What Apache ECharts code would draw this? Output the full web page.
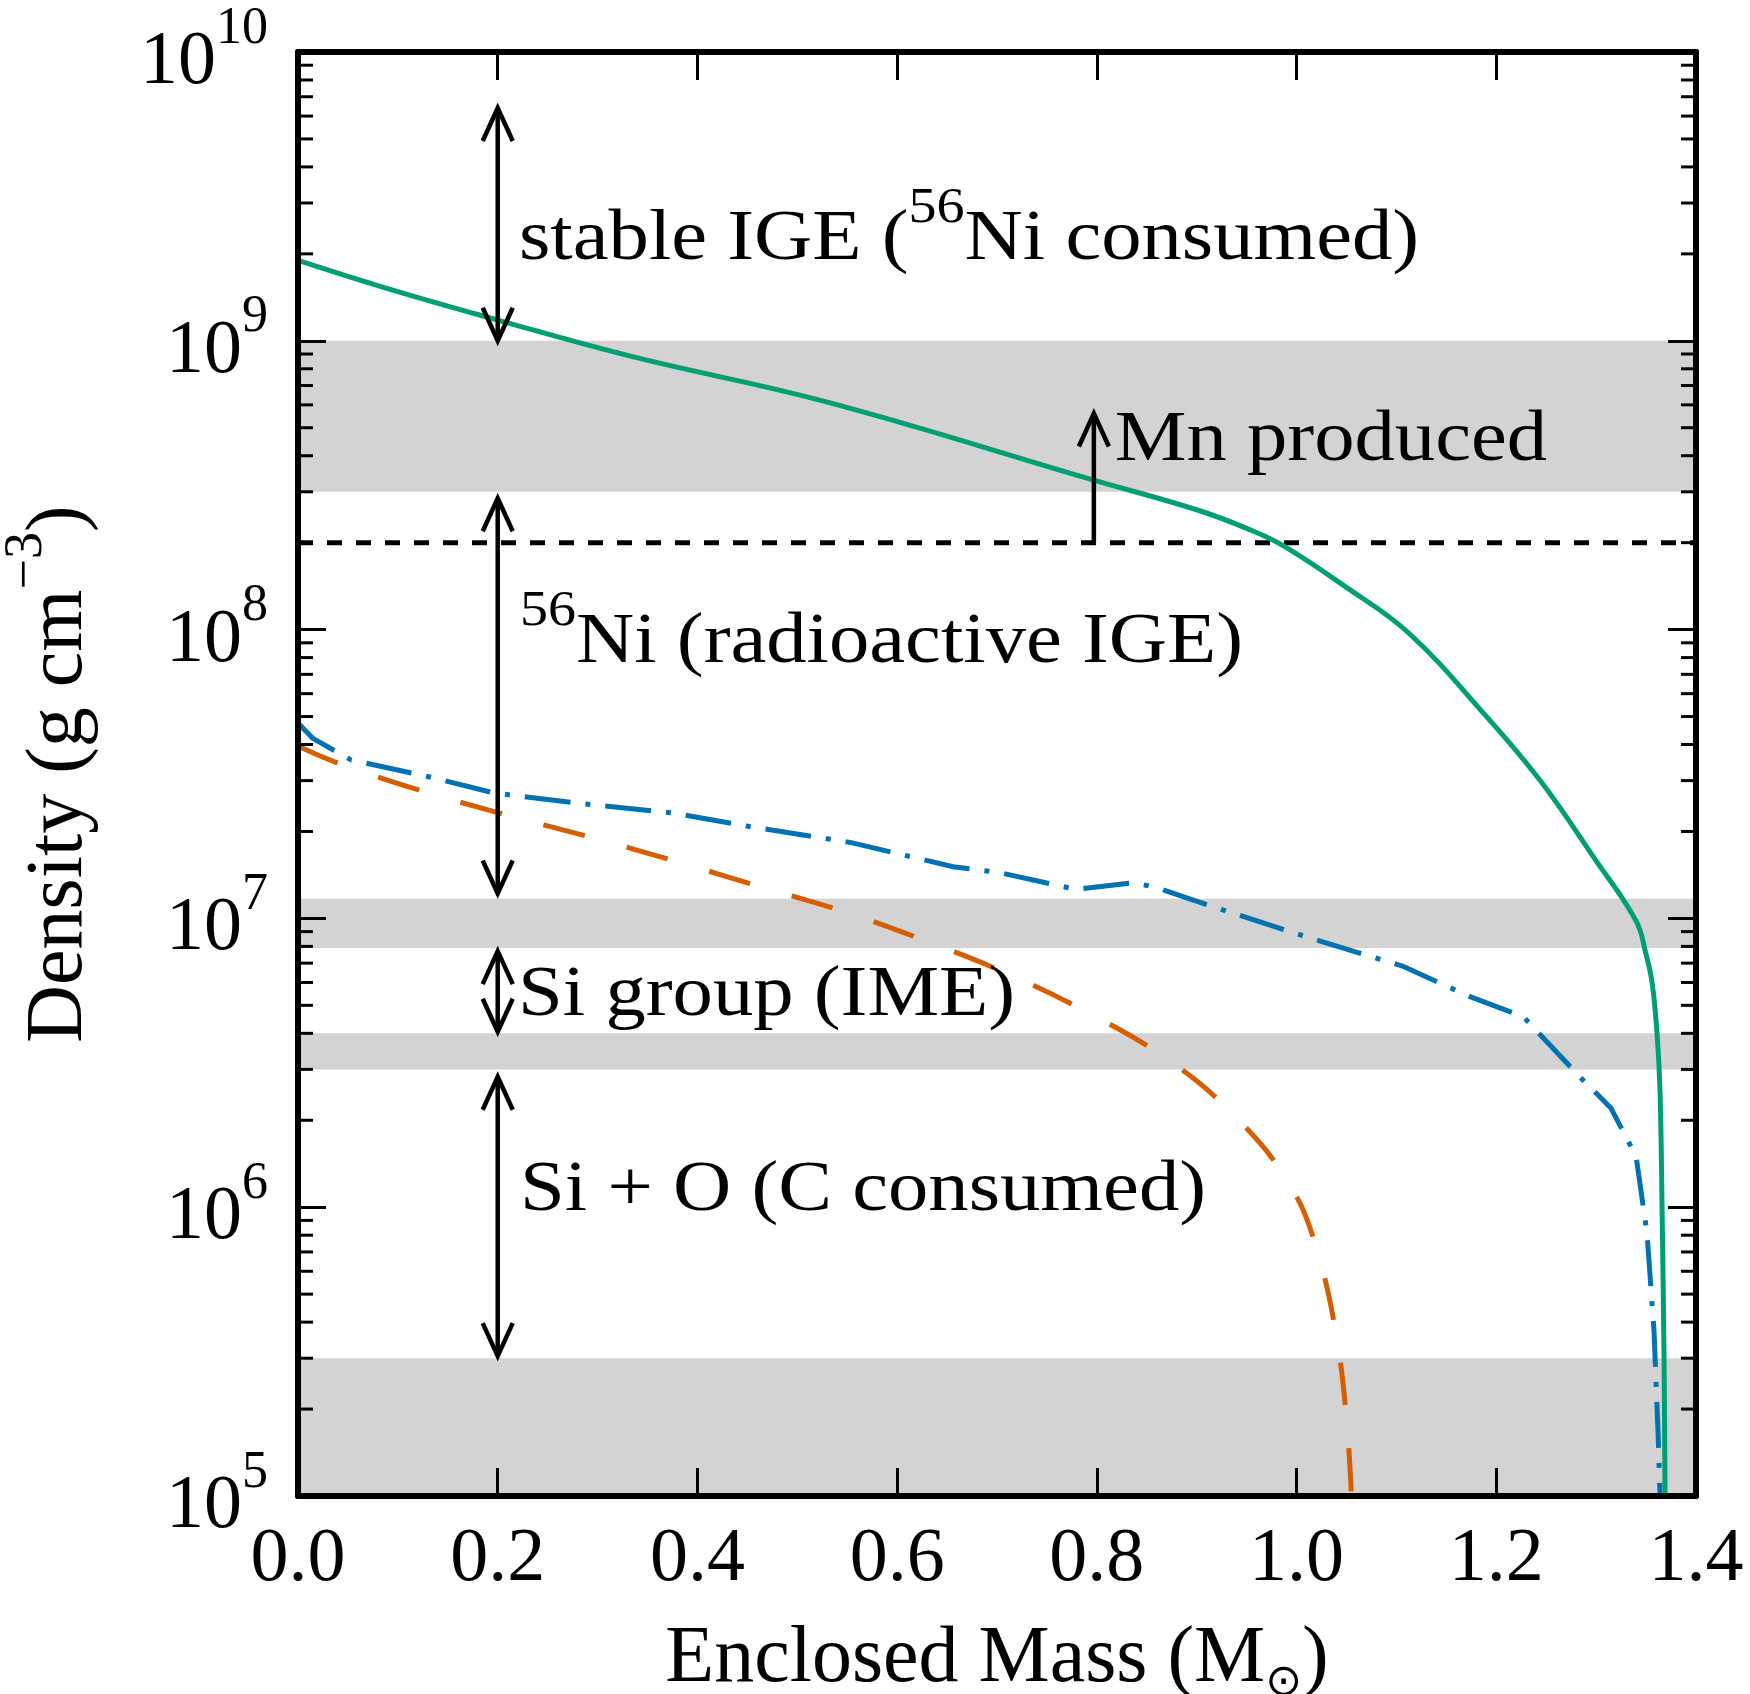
<!DOCTYPE html>
<html><head><meta charset="utf-8">
<script src="https://cdn.jsdelivr.net/npm/echarts@6/dist/echarts.min.js"></script>
<style>html,body{margin:0;padding:0;background:#fff}#c{width:1750px;height:1694px}</style>
</head><body><div id="c"></div>
<script>
// ---------------- data ----------------
const xTickValues = [0.0, 0.2, 0.4, 0.6, 0.8, 1.0, 1.2, 1.4];
const yDecadeValues = [1e5, 1e6, 1e7, 1e8, 1e9, 1e10];
const yMinorTickValues = [
  2e5,3e5,4e5,5e5,6e5,7e5,8e5,9e5,
  2e6,3e6,4e6,5e6,6e6,7e6,8e6,9e6,
  2e7,3e7,4e7,5e7,6e7,7e7,8e7,9e7,
  2e8,3e8,4e8,5e8,6e8,7e8,8e8,9e8,
  2e9,3e9,4e9,5e9,6e9,7e9,8e9,9e9
];
// shaded density ranges [low, high]
const bands = [[1e5, 3e5], [3e6, 4e6], [7.9e6, 1.17e7], [3e8, 1e9]];
// Mn threshold (dashed line)
const mnThreshold = 2e8;
// density profiles: [enclosed mass, density]
const greenProfile = [
  [0.000,1.90e9],[0.100,1.48e9],[0.200,1.18e9],[0.334,8.83e8],[0.532,6.11e8],
  [0.796,3.30e8],[0.900,2.60e8],[0.953,2.22e8],[0.987,1.95e8],[1.050,1.40e8],
  [1.112,9.75e7],[1.188,5.1e7],[1.244,3.0e7],[1.299,1.6e7],[1.340,9.8e6],
  [1.350,7.5e6],[1.356,6.0e6],[1.361,4.0e6],[1.364,2.5e6],[1.366,1.0e6],
  [1.368,3.0e5],[1.369,1.0e5]
];
const blueProfile = [
  [0.000,4.75e7],[0.015,4.2e7],[0.053,3.54e7],[0.135,3.07e7],[0.196,2.72e7],
  [0.211,2.68e7],[0.278,2.51e7],[0.375,2.32e7],[0.452,2.08e7],[0.554,1.83e7],
  [0.656,1.51e7],[0.703,1.44e7],[0.779,1.26e7],[0.837,1.33e7],[0.859,1.28e7],
  [0.926,1.07e7],[1.016,8.5e6],[1.106,6.84e6],[1.173,5.37e6],[1.227,4.57e6],
  [1.284,2.82e6],[1.315,2.2e6],[1.340,1.5e6],[1.351,8.1e5],[1.358,3.7e5],
  [1.362,1.66e5],[1.364,1.0e5]
];
const orangeProfile = [
  [0.000,3.95e7],[0.038,3.47e7],[0.120,2.79e7],[0.201,2.32e7],[0.293,1.91e7],
  [0.380,1.57e7],[0.462,1.29e7],[0.549,1.05e7],[0.631,8.3e6],[0.712,6.4e6],
  [0.792,4.7e6],[0.868,3.3e6],[0.935,2.12e6],[0.993,1.2e6],[1.022,6.8e5],
  [1.042,3.2e5],[1.051,1.66e5],[1.055,1.0e5]
];
// arrows: [mass, density from, density to, heads (2 = both, 1 = top only)]
const arrows = [
  [0.2, 1.0e9, 6.4e9, 2],
  [0.2, 1.22e7, 2.85e8, 2],
  [0.2, 4.05e6, 7.7e6, 2],
  [0.2, 3.05e5, 2.83e6, 2],
  [0.797, 2.0e8, 5.6e8, 1]
];
// annotation anchors [mass, density] and texts
const annotationAnchors = [[0.2213, 2.42e9], [0.818, 4.85e8], [0.2223, 9.75e7], [0.2203, 5.85e6], [0.2223, 1.23e6]];
const annotationTexts = [
  '{r|stable IGE (}{s|56}{r|Ni consumed)}',
  '{r|Mn produced}',
  '{s|56}{r|Ni (radioactive IGE)}',
  '{r|Si group (IME)}',
  '{r|Si + O (C consumed)}'
];
const xAxisName = '{n|Enclosed Mass (M}{sub|⊙}{n|)}';
const yAxisName = '{n|Density (g cm}{s|−3}{n|)}';

// ---------------- chart ----------------
const FONT = "'Liberation Serif', 'DejaVu Serif', serif";
const chart = echarts.init(document.getElementById('c'), null, {renderer: 'canvas'});

const axisLineStyle = {color: '#000', width: 6};
const tickStyle = {color: '#000', width: 3};

const xAxisBase = {
  type: 'value', min: 0, max: 1.4, interval: 0.2, z: 10,
  axisLine: {show: true, onZero: false, lineStyle: axisLineStyle},
  axisTick: {show: true, inside: true, length: 28, lineStyle: tickStyle},
  splitLine: {show: false}
};
const yAxisBase = {
  type: 'log', logBase: 10, min: yDecadeValues[0], max: yDecadeValues[yDecadeValues.length - 1],
  splitNumber: 5, z: 10,
  axisLine: {show: true, onZero: false, lineStyle: axisLineStyle},
  axisTick: {show: true, inside: true, length: 28, lineStyle: tickStyle},
  splitLine: {show: false}, minorTick: {show: false}
};

const annScale = 1.12;

const option = {
  animation: false,
  backgroundColor: '#fff',
  grid: {left: 298, right: 54, top: 52, bottom: 198, containLabel: false, outerBoundsMode: 'none'},
  xAxis: [
    Object.assign({}, xAxisBase, {
      position: 'bottom',
      axisLabel: {show: true, margin: 26, fontFamily: FONT, fontSize: 76, color: '#000',
        showMinLabel: true, showMaxLabel: true,
        formatter: v => xTickValues.some(t => Math.abs(t - v) < 1e-9) ? v.toFixed(1) : ''},
      name: xAxisName, nameLocation: 'middle', nameGap: 124,
      nameTextStyle: {rich: {
        n: {fontFamily: FONT, fontSize: 80, lineHeight: 86, verticalAlign: 'top', color: '#000'},
        sub: {fontFamily: "'DejaVu Sans', sans-serif", fontSize: 44, lineHeight: 44, verticalAlign: 'bottom', color: '#000'}
      }}
    }),
    Object.assign({}, xAxisBase, {position: 'top', axisLabel: {show: false}})
  ],
  yAxis: [
    Object.assign({}, yAxisBase, {
      position: 'left',
      axisLabel: {show: true, margin: 30, color: '#000',
        formatter: v => '{b|10}{s|' + Math.round(Math.log10(v)) + '}',
        rich: {
          b: {fontFamily: FONT, fontSize: 76, lineHeight: 98, verticalAlign: 'bottom', color: '#000'},
          s: {fontFamily: FONT, fontSize: 52, lineHeight: 52, verticalAlign: 'top', color: '#000'}
        }},
      name: yAxisName, nameLocation: 'middle', nameRotate: 90, nameGap: 198,
      nameTextStyle: {rich: {
        n: {fontFamily: FONT, fontSize: 80, lineHeight: 100, verticalAlign: 'bottom', color: '#000'},
        s: {fontFamily: FONT, fontSize: 54, lineHeight: 54, verticalAlign: 'top', color: '#000'}
      }}
    }),
    Object.assign({}, yAxisBase, {position: 'right', axisLabel: {show: false}})
  ],
  series: [
    { // shaded bands
      type: 'line', z: 1, data: [[0, mnThreshold]], symbol: 'none', showSymbol: false,
      lineStyle: {opacity: 0}, silent: true,
      markArea: {silent: true, itemStyle: {color: '#d3d3d3'},
        data: bands.map(b => [{xAxis: 0, yAxis: b[0]}, {xAxis: 1.4, yAxis: b[1]}])}
    },
    { // Mn threshold dashed
      type: 'line', z: 2, symbol: 'none', silent: true,
      data: [[0, mnThreshold], [1.4, mnThreshold]],
      lineStyle: {color: '#000', width: 5, type: [15, 14]}
    },
    {type: 'line', z: 3, symbol: 'none', silent: true, data: orangeProfile,
      smooth: 0.4,
      lineStyle: {color: '#D55E00', width: 5, type: [43, 43]}},
    {type: 'line', z: 3, symbol: 'none', silent: true, data: blueProfile,
      lineStyle: {color: '#0072B2', width: 5, type: [46, 15, 5, 15]}},
    {type: 'line', z: 3, symbol: 'none', silent: true, data: greenProfile,
      smooth: 0.4,
      lineStyle: {color: '#009E73', width: 5}},
    { // minor ticks on both y axes
      type: 'custom', z: 11, silent: true, clip: false,
      data: yMinorTickValues.map(v => [0, v]),
      renderItem: (params, api) => {
        const v = api.value(1);
        const pl = api.coord([0, v]);
        const pr = api.coord([1.4, v]);
        return {type: 'group', children: [
          {type: 'line', shape: {x1: pl[0], y1: pl[1], x2: pl[0] + 15, y2: pl[1]}, style: {stroke: '#000', lineWidth: 3}},
          {type: 'line', shape: {x1: pr[0] - 15, y1: pr[1], x2: pr[0], y2: pr[1]}, style: {stroke: '#000', lineWidth: 3}}
        ]};
      }
    },
    { // arrows
      type: 'custom', z: 6, silent: true, clip: false,
      data: arrows,
      renderItem: (params, api) => {
        const x = api.value(0), y0 = api.value(1), y1 = api.value(2), heads = api.value(3);
        const p0 = api.coord([x, y0]);
        const p1 = api.coord([x, y1]);
        const hl = 33, hw = 15;
        const st = {stroke: '#000', lineWidth: 4.5, fill: null, lineJoin: 'miter'};
        const ch = [
          {type: 'line', shape: {x1: p0[0], y1: p0[1], x2: p1[0], y2: p1[1]}, style: st},
          {type: 'polyline', shape: {points: [[p1[0] - hw, p1[1] + hl], [p1[0], p1[1]], [p1[0] + hw, p1[1] + hl]]}, style: st}
        ];
        if (heads === 2) {
          ch.push({type: 'polyline', shape: {points: [[p0[0] - hw, p0[1] - hl], [p0[0], p0[1]], [p0[0] + hw, p0[1] - hl]]}, style: st});
        }
        return {type: 'group', children: ch};
      }
    },
    { // annotations
      type: 'custom', z: 7, silent: true, clip: false,
      data: annotationAnchors,
      renderItem: (params, api) => {
        const p = api.coord([api.value(0), api.value(1)]);
        return {
          type: 'text', x: p[0], y: p[1], scaleX: annScale, scaleY: 1,
          style: {
            text: annotationTexts[params.dataIndex], align: 'left', verticalAlign: 'middle', fill: '#000',
            rich: {
              r: {fontFamily: FONT, fontSize: 72, lineHeight: 92, verticalAlign: 'bottom', fill: '#000'},
              s: {fontFamily: FONT, fontSize: 50, lineHeight: 50, verticalAlign: 'top', fill: '#000'}
            }
          }
        };
      }
    }
  ]
};
chart.setOption(option);
</script>
</body></html>
